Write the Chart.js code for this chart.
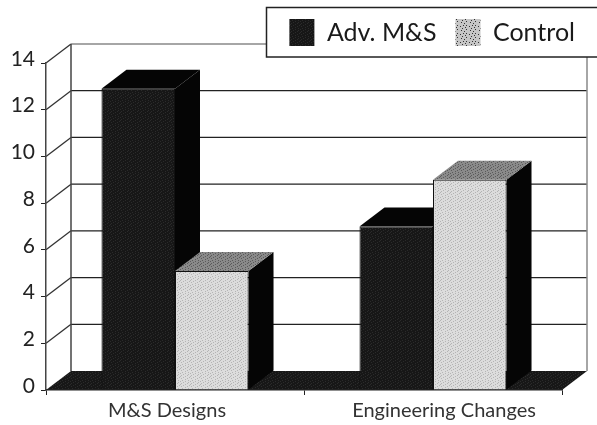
<!DOCTYPE html>
<html>
<head>
<meta charset="utf-8">
<style>
  html, body { margin: 0; padding: 0; background: #fff; }
  canvas { display: block; }
</style>
<script src="https://cdn.jsdelivr.net/npm/chart.js@4"></script>
</head>
<body>
<canvas id="chart" width="597" height="425"></canvas>
<script>
// Data
const categories = ['M&S Designs', 'Engineering Changes'];
const advValues = [12.9, 7];
const controlValues = [5.1, 9];
const seriesNames = ['Adv. M&S', 'Control'];
const yStep = 2;
const yMax = 14;

// Depth of the fake 3D box
const depthX = 25;
const depthY = 19;

// Small fixed speckle tiles, the original is a scanned halftone
function makeTile(base, speck, rows) {
    const c = document.createElement('canvas');
    c.width = rows[0].length;
    c.height = rows.length;
    const g = c.getContext('2d');
    g.fillStyle = base;
    g.fillRect(0, 0, c.width, c.height);
    g.fillStyle = speck;
    rows.forEach(function (row, y) {
        row.split('').forEach(function (ch, x) {
            if (ch === '#') g.fillRect(x, y, 1, 1);
        });
    });
    return g.createPattern(c, 'repeat');
}

const tileRows = [
    '#....#....',
    '...#.....#',
    '.#.....#..',
    '.....#....',
    '..#.....#.',
    '#....#....',
    '...#....#.',
    '.#.....#..'
];
const swatchRows = [
    '.........',
    '....#..#.',
    '.#.......',
    '......#..',
    '...#.....',
    '.......#.',
    '..#......',
    '.....#...'
];
const darkFill = makeTile('#171717', '#2b2b2b', tileRows);
const lightFill = makeTile('#dcdcdc', '#b4b4b4', tileRows);
const topFill = makeTile('#8a8a8a', '#5a5a5a', tileRows);
const swatchFill = makeTile('#c6c6c6', '#333333', swatchRows);

function poly(ctx, pts, fill) {
    ctx.beginPath();
    pts.forEach(function (p, i) {
        if (i === 0) ctx.moveTo(p[0], p[1]);
        else ctx.lineTo(p[0], p[1]);
    });
    ctx.closePath();
    ctx.fillStyle = fill;
    ctx.fill();
}

function line(ctx, x1, y1, x2, y2, color, width) {
    ctx.beginPath();
    ctx.moveTo(x1, y1);
    ctx.lineTo(x2, y2);
    ctx.strokeStyle = color;
    ctx.lineWidth = width;
    ctx.stroke();
}

const box3d = {
    id: 'box3d',
    // put the legend where the frame is
    afterLayout: function (chart) {
        chart.legend.top = 0;
        chart.legend.bottom = 60;
        chart.legend.right = 594;
    },
    beforeDraw: function (chart) {
        const ctx = chart.ctx;
        const a = chart.chartArea;
        const y = chart.scales.y;
        ctx.save();
        ctx.fillStyle = '#fff';
        ctx.fillRect(0, 0, chart.width, chart.height);

        // the category labels are not centred under their groups in the original
        chart.scales.x.getLabelItems().forEach(function (item, i) {
            item.options.translation[0] += i === 0 ? -8 : 11;
        });

        // back wall, gridlines and the slanted bits on the left side
        y.ticks.forEach(function (t) {
            const py = y.getPixelForValue(t.value);
            const top = t.value === yMax;
            if (t.value > 0) {
                line(ctx, a.left, py, a.left + depthX, py - depthY, '#333', 1.3);
                line(ctx, a.left + depthX, py - depthY, a.right + depthX, py - depthY, top ? '#888' : '#222', 1.3);
            }
        });
        line(ctx, a.left + depthX, a.top - depthY, a.left + depthX, a.bottom - depthY, '#444', 1.5);
        line(ctx, a.right + depthX, a.top - depthY, a.right + depthX, a.bottom - depthY, '#888', 1.5);

        // floor
        poly(ctx, [
            [a.left, a.bottom],
            [a.left + depthX, a.bottom - depthY],
            [a.right + depthX, a.bottom - depthY],
            [a.right, a.bottom]
        ], darkFill);

        // legend frame
        ctx.fillStyle = '#fff';
        ctx.fillRect(266, 7, 331, 50);
        ctx.strokeStyle = '#222';
        ctx.lineWidth = 1.5;
        ctx.strokeRect(266.5, 7.5, 340, 49.5);
        ctx.restore();
    },
    // side and top faces go in first, left series then right, fronts land on top
    beforeDatasetsDraw: function (chart) {
        const ctx = chart.ctx;
        ctx.save();
        chart.data.datasets.forEach(function (ds, i) {
            const topColor = i === 0 ? '#050505' : topFill;
            chart.getDatasetMeta(i).data.forEach(function (bar) {
                const left = bar.x - bar.width / 2;
                const right = bar.x + bar.width / 2;
                poly(ctx, [
                    [right, bar.y],
                    [right + depthX, bar.y - depthY],
                    [right + depthX, bar.base - depthY],
                    [right, bar.base]
                ], '#050505');
                poly(ctx, [
                    [left, bar.y],
                    [left + depthX, bar.y - depthY],
                    [right + depthX, bar.y - depthY],
                    [right, bar.y]
                ], topColor);
            });
        });
        ctx.restore();
    }
};

new Chart(document.getElementById('chart'), {
    type: 'bar',
    data: {
        labels: categories,
        datasets: [
            {
                label: seriesNames[0],
                data: advValues,
                backgroundColor: darkFill,
                borderColor: '#111',
                borderWidth: 1
            },
            {
                label: seriesNames[1],
                data: controlValues,
                backgroundColor: lightFill,
                borderColor: '#111',
                borderWidth: 1
            }
        ]
    },
    options: {
        responsive: false,
        animation: false,
        devicePixelRatio: 1,
        layout: { padding: { top: 7, right: 35, left: 0, bottom: 0 } },
        datasets: { bar: { categoryPercentage: 0.57, barPercentage: 1 } },
        plugins: {
            tooltip: { enabled: false },
            legend: {
                position: 'top',
                align: 'end',
                labels: {
                    boxWidth: 25,
                    boxHeight: 27,
                    padding: 19,
                    color: '#1a1a1a',
                    font: { family: 'Lato', size: 25, lineHeight: 1 },
                    generateLabels: function (chart) {
                        const items = Chart.defaults.plugins.legend.labels.generateLabels(chart);
                        items.forEach(function (item) { item.lineWidth = 0; });
                        items[1].fillStyle = swatchFill;
                        return items;
                    }
                }
            }
        },
        scales: {
            x: {
                afterFit: function (s) { s.height = 35; },
                grid: { drawOnChartArea: false, color: '#222', tickLength: 5, offset: true },
                border: { color: '#222', width: 1.5 },
                ticks: {
                    color: '#333',
                    padding: 4,
                    maxRotation: 0,
                    font: { family: 'Lato', size: 20 }
                }
            },
            y: {
                min: 0,
                max: yMax,
                afterFit: function (s) { s.width = 46; },
                grid: { drawOnChartArea: false, color: '#222', tickLength: 5 },
                border: { color: '#444', width: 1.5 },
                ticks: {
                    stepSize: yStep,
                    color: '#222',
                    padding: 6,
                    labelOffset: -4,
                    font: { family: 'Lato', size: 21 }
                }
            }
        }
    },
    plugins: [box3d]
});
</script>
</body>
</html>
